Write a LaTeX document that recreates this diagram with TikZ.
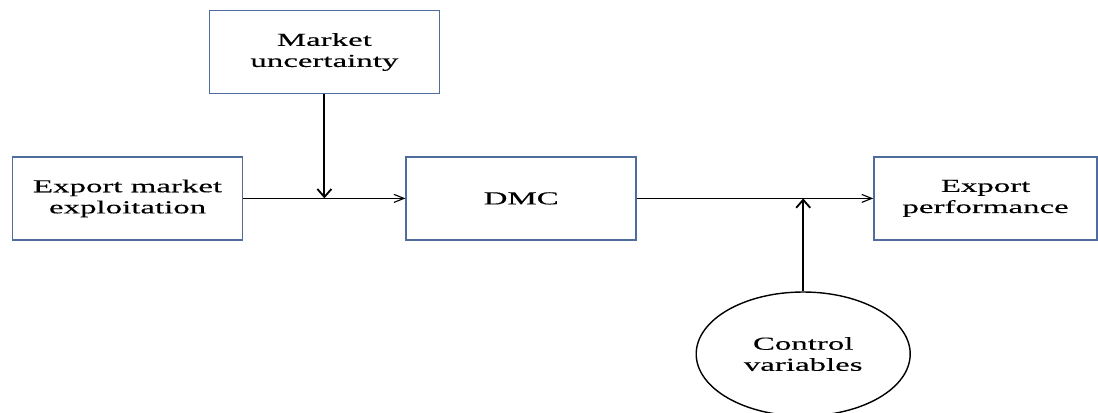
\documentclass[tikz,border=0pt]{standalone}
\usepackage{fontspec}
\setmainfont{Liberation Serif}[FakeStretch=1.8,FakeBold=0.3]
\usetikzlibrary{arrows.meta,shapes.geometric}
\definecolor{boxblue}{HTML}{4F6D9C}
\tikzset{
  box/.style={draw=boxblue, line width=1.1pt, minimum width=5.75cm, minimum height=2.07cm, align=center, font=\fontsize{13}{15}\selectfont},
  oval/.style={draw=black, ellipse, line width=1pt, minimum width=5.35cm, minimum height=3.1cm, align=center, font=\fontsize{13}{15}\selectfont},
  flow/.style={line width=0.8pt, -{Straight Barb[length=2.5mm,width=2mm]}},
  push/.style={line width=1.3pt, -{Straight Barb[length=2mm,width=3.5mm]}}
}
\begin{document}
\begin{tikzpicture}
			\useasboundingbox (0,0) rectangle (27.45,-10.3);
			
			\node[box] (uncert) at (8.11,-1.30) {Market\\uncertainty};
			\node[box] (exploit) at (3.19,-4.96) {Export market\\exploitation};
			\node[box] (dmc) at (13.03,-4.96) {DMC};
			\node[box, minimum width=5.58cm] (perf) at (24.64,-4.96) {Export\\performance};
			\node[oval] (control) at (20.08,-8.85) {Control\\variables};
			
			\coordinate (join) at (uncert.south |- exploit.east);
			\coordinate (meet) at (control.north |- dmc.east);
			
			\draw[flow] (exploit.east) -- (dmc.west);
			\draw[push] (uncert.south) -- (join);
			\draw[flow] (dmc.east) -- (perf.west);
			\draw[push] (control.north) -- (meet);
		\end{tikzpicture}
\end{document}
